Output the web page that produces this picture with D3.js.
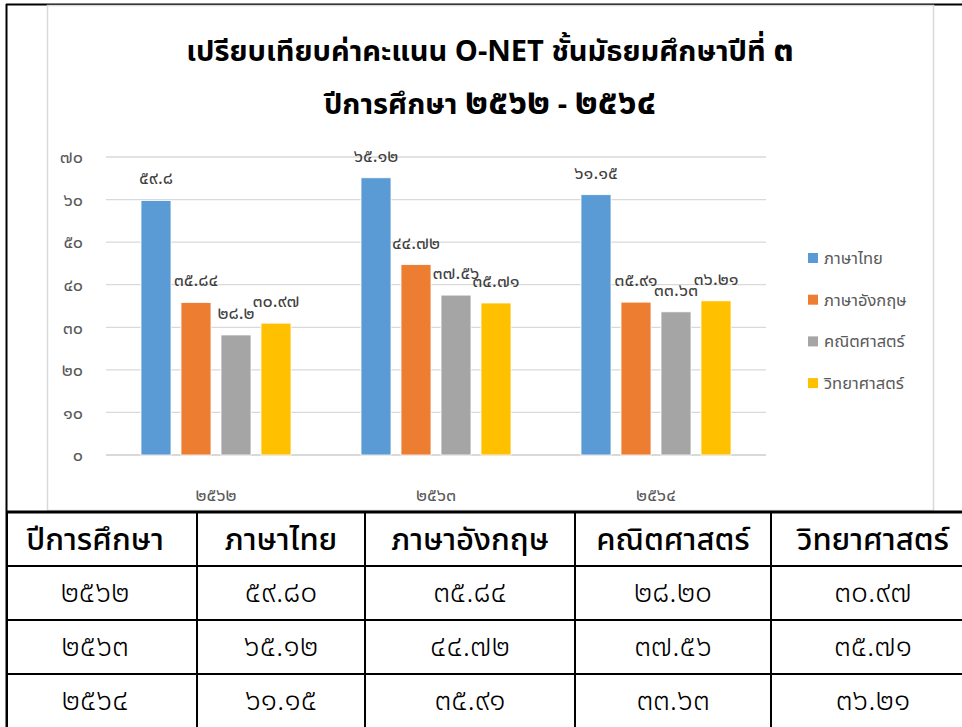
<!DOCTYPE html>
<html lang="th">
<head>
<meta charset="UTF-8">
<script src="https://d3js.org/d3.v7.min.js"></script>
<title>O-NET</title>
<style>
  body { margin: 0; background: #fff; }
  text { font-family: "Noto Sans Thai", "Noto Sans Thai UI", "Loma", "Garuda", "Noto Sans", sans-serif; }
</style>
</head>
<body>
<script>
const width = 962, height = 727;

const years = ["2562", "2563", "2564"];
const subjects = ["ภาษาไทย", "ภาษาอังกฤษ", "คณิตศาสตร์", "วิทยาศาสตร์"];
const thaiScores = [59.80, 65.12, 61.15];
const englishScores = [35.84, 44.72, 35.91];
const mathScores = [28.20, 37.56, 33.63];
const scienceScores = [30.97, 35.71, 36.21];
const yTicks = [0, 10, 20, 30, 40, 50, 60, 70];
const colors = ["#5B9BD5", "#ED7D31", "#A5A5A5", "#FFC000"];

const series = [thaiScores, englishScores, mathScores, scienceScores];

// arabic -> thai digits
const thaiDigits = "๐๑๒๓๔๕๖๗๘๙";
const toThai = s => String(s).replace(/[0-9]/g, d => thaiDigits[+d]);
const fmtShort = d3.format("~");
const fmtTable = d3.format(".2f");

const svg = d3.select("body").append("svg")
    .attr("width", width).attr("height", height);

// outer frame (document table cell)
svg.append("line").attr("x1", 6).attr("x2", width).attr("y1", 4.5).attr("y2", 4.5)
    .attr("stroke", "#000").attr("stroke-width", 2);
svg.append("line").attr("x1", 6.5).attr("x2", 6.5).attr("y1", 4).attr("y2", height)
    .attr("stroke", "#000").attr("stroke-width", 2);

// chart area
svg.append("rect").attr("x", 47.5).attr("y", 5.5).attr("width", 886).attr("height", 505)
    .attr("fill", "#fff").attr("stroke", "#d9d9d9").attr("stroke-width", 1.5);

// title: thai digits drawn a bit larger, like the original font
function title(txt, yPos) {
  const t = svg.append("text").attr("x", 490).attr("y", yPos).attr("text-anchor", "middle")
      .attr("font-size", 29).attr("font-weight", "bold").attr("fill", "#000");
  txt.split(/([๐-๙]+)/).forEach(part => {
    if (!part) return;
    const ts = t.append("tspan").text(part);
    if (/[๐-๙]/.test(part)) ts.attr("font-size", 36);
  });
}
title("เปรียบเทียบค่าคะแนน O-NET ชั้นมัธยมศึกษาปีที่ ๓", 61);
title("ปีการศึกษา ๒๕๖๒ - ๒๕๖๔", 114);

const plot = {left: 106, right: 766, top: 157, bottom: 455};

const x0 = d3.scaleBand().domain(years).range([plot.left, plot.right]).padding(0);
const x1 = d3.scaleBand().domain(subjects).range([35, 185]).paddingInner(0.25);
const y = d3.scaleLinear().domain([0, 70]).range([plot.bottom, plot.top]);

// gridlines
svg.append("g").selectAll("line").data(yTicks).join("line")
    .attr("x1", plot.left).attr("x2", plot.right)
    .attr("y1", d => y(d)).attr("y2", d => y(d))
    .attr("stroke", "#d9d9d9").attr("stroke-width", d => d === 0 ? 2 : 1.3);

const yAxis = svg.append("g").attr("transform", `translate(${plot.left - 20},0)`)
    .call(d3.axisLeft(y).tickValues(yTicks).tickSize(0).tickFormat(d => toThai(d)));
yAxis.select(".domain").remove();
yAxis.selectAll("text").attr("font-size", 18).attr("fill", "#595959").attr("text-anchor", "end");

const xAxis = svg.append("g").attr("transform", `translate(0,${plot.bottom + 30})`)
    .call(d3.axisBottom(x0).tickSize(0).tickFormat(d => toThai(d)));
xAxis.select(".domain").remove();
xAxis.selectAll("text").attr("font-size", 18).attr("fill", "#595959");

const groups = svg.append("g").selectAll("g").data(years).join("g")
    .attr("transform", d => `translate(${x0(d)},0)`);

groups.selectAll("rect")
    .data((yr, i) => subjects.map((s, j) => ({s, j, v: series[j][i]})))
    .join("rect")
    .attr("x", d => x1(d.s)).attr("width", x1.bandwidth())
    .attr("y", d => y(d.v)).attr("height", d => y(0) - y(d.v))
    .attr("fill", d => colors[d.j]).attr("stroke", "#fff").attr("stroke-width", 0.8);

groups.selectAll("text.lbl")
    .data((yr, i) => subjects.map((s, j) => ({s, j, v: series[j][i]})))
    .join("text").attr("class", "lbl")
    .attr("x", d => x1(d.s) + x1.bandwidth() / 2)
    .attr("y", d => y(d.v) - 16)
    .attr("text-anchor", "middle").attr("font-size", 18).attr("fill", "#404040")
    .text(d => toThai(fmtShort(d.v)));

// legend
const legend = svg.append("g").selectAll("g").data(subjects).join("g")
    .attr("transform", (d, i) => `translate(808,${258 + i * 41.7})`);
legend.append("rect").attr("x", 0).attr("y", -5).attr("width", 10).attr("height", 10)
    .attr("fill", (d, i) => colors[i]);
legend.append("text").attr("x", 16).attr("y", 6).attr("font-size", 16.5).attr("fill", "#595959")
    .text(d => d);

// table below
const colEdges = [7, 197, 365, 575, 771, 975];
const rowEdges = [512, 566, 620, 674, 728];
const headers = ["ปีการศึกษา"].concat(subjects);

const table = svg.append("g");
table.selectAll("line.h").data(rowEdges).join("line").attr("class", "h")
    .attr("x1", 6).attr("x2", width).attr("y1", d => d).attr("y2", d => d)
    .attr("stroke", "#000").attr("stroke-width", (d, i) => i === 0 ? 3 : 2);
table.selectAll("line.v").data(colEdges).join("line").attr("class", "v")
    .attr("x1", d => d).attr("x2", d => d).attr("y1", rowEdges[0]).attr("y2", height)
    .attr("stroke", "#000").attr("stroke-width", 2);

const colCenter = i => i === 0 ? 95 : (colEdges[i] + colEdges[i + 1]) / 2;

table.selectAll("text.hd").data(headers).join("text").attr("class", "hd")
    .attr("x", (d, i) => colCenter(i)).attr("y", (rowEdges[0] + rowEdges[1]) / 2 + 11)
    .attr("text-anchor", "middle").attr("font-size", 31).attr("font-weight", 500).attr("fill", "#000")
    .text(d => d);

years.forEach((yr, i) => {
  const cells = [toThai(yr)].concat(series.map(s => toThai(fmtTable(s[i]))));
  table.selectAll(`text.r${i}`).data(cells).join("text").attr("class", `r${i}`)
      .attr("x", (d, c) => colCenter(c)).attr("y", (rowEdges[i + 1] + rowEdges[i + 2]) / 2 + 9)
      .attr("text-anchor", "middle").attr("font-size", 30).attr("font-weight", 300).attr("fill", "#000")
      .text(d => d);
});
</script>
</body>
</html>
